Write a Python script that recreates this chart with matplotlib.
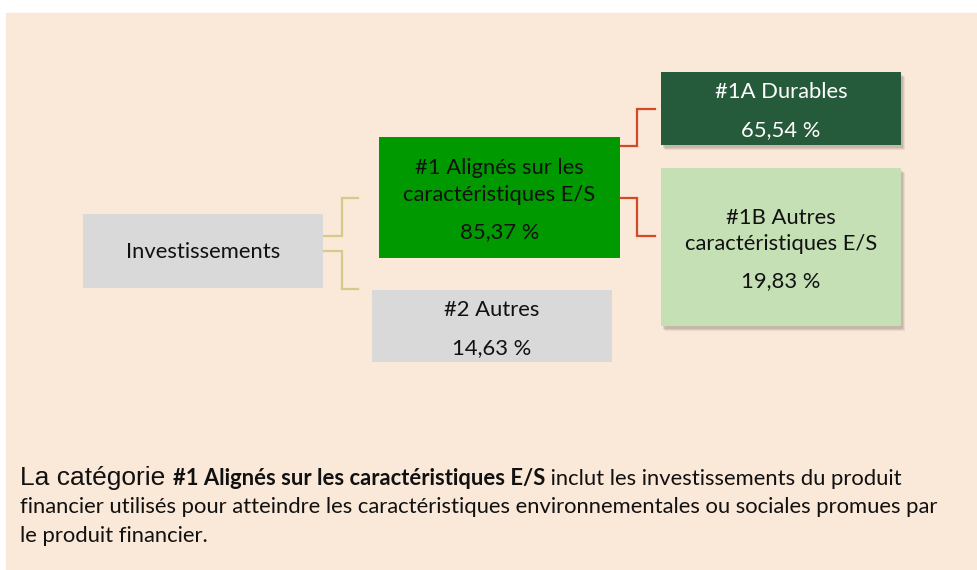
import matplotlib.pyplot as plt
from matplotlib.patches import Rectangle

# data
labels = ["Investissements", "#1 Alignés sur les\ncaractéristiques E/S", "#2 Autres",
          "#1A Durables", "#1B Autres\ncaractéristiques E/S"]
values = [None, 85.37, 14.63, 65.54, 19.83]

# layout in pixel coords (x0, y0, x1, y1)
boxes = [(83, 214, 323, 288), (379, 137, 620, 258), (372, 290, 612, 362),
         (661, 72, 901, 145), (661, 168, 901, 326)]
fills = ["#d9d9d9", "#009a00", "#d9d9d9", "#255a3b", "#c5e0b4"]
txt_col = ["#111111", "#111111", "#111111", "#ffffff", "#111111"]
shadow = [False, False, False, True, True]

FONT = "Lato"
FS = 15.8
W, H = 977, 570
fig = plt.figure(figsize=(W / 100, H / 100), dpi=100)
ax = fig.add_axes([0, 0, 1, 1])
ax.set_xlim(0, W)
ax.set_ylim(H, 0)
ax.axis('off')

ax.add_patch(Rectangle((6, 13), W, H, color="#fae8d8", zorder=0))

def fmt(v):
    return f"{v:.2f}".replace(".", ",") + " %"

for lab, v, (x0, y0, x1, y1), fc, tc, sh in zip(labels, values, boxes, fills, txt_col, shadow):
    if sh:
        for k, a in ((5, 0.12), (4, 0.15), (3, 0.2)):
            ax.add_patch(Rectangle((x0 + k - 1, y0 + k), x1 - x0, y1 - y0, color="#7d7166", alpha=a, lw=0, zorder=1))
    ax.add_patch(Rectangle((x0, y0), x1 - x0, y1 - y0, color=fc, lw=0, zorder=2))
    cx = (x0 + x1) / 2
    cy = (y0 + y1) / 2
    if v is None:
        ax.text(cx, cy + 1, lab, ha='center', va='center', color=tc,
                fontsize=FS, family=FONT, zorder=3)
        continue
    nl = lab.count("\n") + 1
    ly = cy - 16
    ax.text(cx, ly, lab, ha='center', va='center', color=tc,
            fontsize=FS, family=FONT, linespacing=1.4, zorder=3)
    vy = ly + 38 + (nl - 1) * 12.5
    ax.text(cx, vy, fmt(v), ha='center', va='center', color=tc,
            fontsize=FS, family=FONT, zorder=3)

# connectors
def elbow(xa, ya, xm, yb, xb, col):
    ax.plot([xa, xm, xm, xb], [ya, ya, yb, yb], color=col, lw=1.6, zorder=1, solid_joinstyle='miter')

elbow(323, 236, 342, 198, 358, "#d6c98a")
elbow(323, 251, 342, 289, 358, "#d6c98a")
elbow(620, 146, 637, 109, 655, "#d24a26")
elbow(620, 198, 637, 236, 655, "#d24a26")

# caption with mixed fonts
fig.canvas.draw()
r = fig.canvas.get_renderer()

def put(x, y, s, **kw):
    t = ax.text(x, y, s, va='baseline', ha='left', color="#111111", **kw)
    bb = t.get_window_extent(renderer=r)
    return x + bb.width

x = put(20, 485, "La catégorie ", family="Liberation Sans", fontsize=19)
x = put(x, 485, "#1 Alignés sur les caractéristiques E/S", family=FONT, fontsize=FS, weight='bold')
put(x, 485, " inclut les investissements du produit", family=FONT, fontsize=FS)
put(20, 513, "financier utilisés pour atteindre les caractéristiques environnementales ou sociales promues par",
    family=FONT, fontsize=FS)
put(20, 542, "le produit financier.", family=FONT, fontsize=FS)

fig.savefig("out.png", dpi=100, facecolor="white")
